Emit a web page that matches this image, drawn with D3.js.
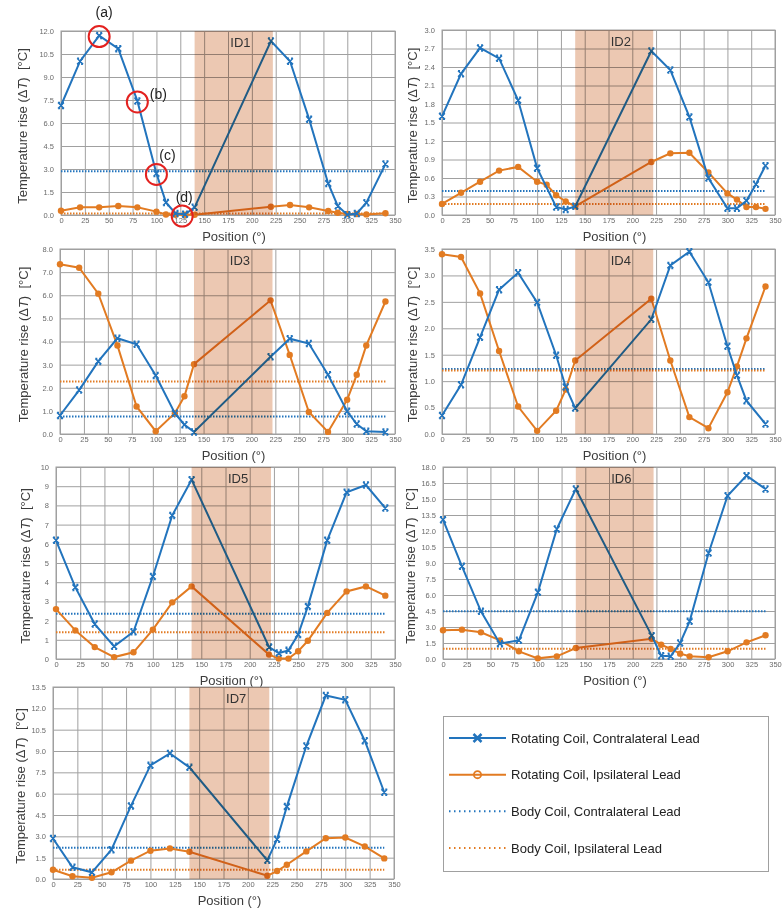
<!DOCTYPE html>
<html>
<head>
<meta charset="utf-8">
<script src="https://cdn.jsdelivr.net/npm/d3@7"></script>
<style>
  body { margin: 0; background: #fff; }
  svg { display: block; font-family: "Liberation Sans", Arial, sans-serif; }
</style>
</head>
<body>
<div id="chart"></div>
<script>
// Positions (deg) used in each panel
var posID1 = [0, 20, 40, 60, 80, 100, 110, 120, 130, 140, 220, 240, 260, 280, 290, 300, 310, 320, 340];
var posID2Contra = [0, 20, 40, 60, 80, 100, 120, 130, 140, 220, 240, 260, 280, 300, 310, 320, 330, 340];
var posID2Ipsi = [0, 20, 40, 60, 80, 100, 110, 120, 130, 140, 220, 240, 260, 280, 300, 310, 320, 330, 340];
var posID34 = [0, 20, 40, 60, 80, 100, 120, 130, 140, 220, 240, 260, 280, 300, 310, 320, 340];
var posID56 = [0, 20, 40, 60, 80, 100, 120, 140, 220, 230, 240, 250, 260, 280, 300, 320, 340];
var posID7 = [0, 20, 40, 60, 80, 100, 120, 140, 220, 230, 240, 260, 280, 300, 320, 340];

// Rotating coil, contralateral lead (blue)
var id1Contra = [7.14, 10.03, 11.7, 10.85, 7.44, 2.71, 0.82, 0.1, 0.05, 0.5, 11.35, 10.03, 6.25, 2.06, 0.59, 0.02, 0.1, 0.8, 3.32];
var id2Contra = [1.6, 2.29, 2.71, 2.54, 1.86, 0.76, 0.13, 0.09, 0.14, 2.66, 2.35, 1.59, 0.6, 0.11, 0.11, 0.23, 0.5, 0.8];
var id3Contra = [0.8, 1.9, 3.14, 4.14, 3.88, 2.53, 0.9, 0.4, 0.09, 3.34, 4.12, 3.91, 2.56, 0.98, 0.43, 0.12, 0.09];
var id4Contra = [0.35, 0.93, 1.83, 2.73, 3.05, 2.49, 1.49, 0.89, 0.49, 2.17, 3.19, 3.45, 2.87, 1.66, 1.11, 0.63, 0.19];
var id5Contra = [6.18, 3.73, 1.82, 0.66, 1.42, 4.3, 7.48, 9.34, 0.62, 0.31, 0.45, 1.27, 2.74, 6.18, 8.68, 9.06, 7.86];
var id6Contra = [13.06, 8.69, 4.47, 1.44, 1.75, 6.25, 12.19, 15.94, 2.19, 0.31, 0.25, 1.5, 3.53, 9.94, 15.3, 17.19, 15.94];
var id7Contra = [2.85, 0.82, 0.47, 2.06, 5.14, 7.99, 8.83, 7.85, 1.31, 2.8, 5.09, 9.35, 12.9, 12.6, 9.72, 6.1];

// Rotating coil, ipsilateral lead (orange)
var id1Ipsi = [0.28, 0.5, 0.5, 0.59, 0.5, 0.22, 0.03, 0.02, 0.02, 0.02, 0.54, 0.65, 0.5, 0.26, 0.15, 0.07, 0.07, 0.04, 0.11];
var id2Ipsi = [0.18, 0.36, 0.54, 0.72, 0.78, 0.54, 0.49, 0.32, 0.22, 0.14, 0.86, 1.0, 1.01, 0.69, 0.35, 0.25, 0.13, 0.13, 0.1];
var id3Ipsi = [7.34, 7.19, 6.07, 3.83, 1.19, 0.12, 0.9, 1.63, 3.02, 5.78, 3.42, 0.95, 0.09, 1.48, 2.56, 3.83, 5.73];
var id4Ipsi = [3.4, 3.35, 2.66, 1.57, 0.52, 0.06, 0.44, 0.84, 1.39, 2.56, 1.39, 0.32, 0.11, 0.79, 1.28, 1.81, 2.79];
var id5Ipsi = [2.6, 1.49, 0.62, 0.1, 0.35, 1.53, 2.95, 3.78, 0.23, 0.02, 0.02, 0.4, 0.95, 2.4, 3.52, 3.78, 3.3];
var id6Ipsi = [2.69, 2.75, 2.5, 1.75, 0.72, 0.06, 0.25, 1.03, 1.9, 1.34, 0.94, 0.5, 0.25, 0.16, 0.72, 1.56, 2.22];
var id7Ipsi = [0.65, 0.19, 0.09, 0.47, 1.29, 1.99, 2.15, 1.92, 0.23, 0.56, 1.0, 1.94, 2.87, 2.92, 2.29, 1.45];

// Body coil levels (constant over position)
var bodyContra = [2.86, 0.39, 0.76, 1.23, 2.36, 4.47, 2.2];
var bodyIpsi = [0.1, 0.18, 2.27, 1.2, 1.39, 0.97, 0.65];

var panelNames = ['ID1', 'ID2', 'ID3', 'ID4', 'ID5', 'ID6', 'ID7'];
var yMax = [12, 3, 8, 3.5, 10, 18, 13.5];
var yStep = [1.5, 0.3, 1, 0.5, 1, 1.5, 1.5];
var xTicks = d3.range(0, 351, 25);
var shadeRange = [140, 222];
var bodyRange = [0, 340];

var legendLabels = ['Rotating Coil, Contralateral Lead', 'Rotating Coil, Ipsilateral Lead',
                    'Body Coil, Contralateral Lead', 'Body Coil, Ipsilateral Lead'];

// annotations in ID1
var annoLabels = ['(a)', '(b)', '(c)', '(d)'];
var annoPos = [40, 80, 100, 127];
var annoVal = [11.7, 7.44, 2.71, 0.0];

var contra = [
  {x: posID1, y: id1Contra}, {x: posID2Contra, y: id2Contra}, {x: posID34, y: id3Contra},
  {x: posID34, y: id4Contra}, {x: posID56, y: id5Contra}, {x: posID56, y: id6Contra}, {x: posID7, y: id7Contra}
];
var ipsi = [
  {x: posID1, y: id1Ipsi}, {x: posID2Ipsi, y: id2Ipsi}, {x: posID34, y: id3Ipsi},
  {x: posID34, y: id4Ipsi}, {x: posID56, y: id5Ipsi}, {x: posID56, y: id6Ipsi}, {x: posID7, y: id7Ipsi}
];

// pixel layout of each plot area
var layout = [
  {l: 61, r: 395, t: 31, b: 215, lab: 39},
  {l: 442, r: 775, t: 30, b: 215, lab: 30},
  {l: 60, r: 395, t: 249, b: 434, lab: 37},
  {l: 442, r: 775, t: 249, b: 434, lab: 30},
  {l: 56, r: 395, t: 467, b: 659, lab: 31},
  {l: 443, r: 775, t: 467, b: 659, lab: 33},
  {l: 53, r: 394, t: 687, b: 879, lab: 33}
];

var blue = '#2274bd',
    orange = '#e27b22',
    gridColor = '#a0a0a0',
    textColor = '#3c3c3c';

var width = 783, height = 909;

var svg = d3.select('#chart').append('svg')
    .attr('width', width)
    .attr('height', height);

var crossPath = 'M-3,-3L3,3M-3,3L3,-3M-3,-3L-1,-3M1,-3L3,-3M-3,3L-1,3M1,3L3,3';

function styleAxis(g) {
  g.select('.domain').remove();
  g.selectAll('.tick line').attr('stroke', gridColor).attr('stroke-width', 1);
  g.selectAll('.tick text').attr('fill', '#6a6a6a').attr('font-size', '7.5px')
    .attr('font-family', '"Liberation Sans", Arial, sans-serif');
}

layout.forEach(function(p, i) {

  var x = d3.scaleLinear().domain([0, 350]).range([p.l, p.r]);
  var y = d3.scaleLinear().domain([0, yMax[i]]).range([p.b, p.t]);
  var yTicks = d3.range(0, Math.round(yMax[i] / yStep[i]) + 1).map(function(k) { return k * yStep[i]; });
  var fmt = i === 4 ? d3.format('d') : d3.format('.1f');

  var g = svg.append('g');

  // grid + ticks
  g.append('g')
      .attr('transform', 'translate(0,' + p.b + ')')
      .call(d3.axisBottom(x).tickValues(xTicks).tickSize(-(p.b - p.t)).tickPadding(3).tickFormat(d3.format('d')))
      .call(styleAxis);

  g.append('g')
      .attr('transform', 'translate(' + p.l + ',0)')
      .call(d3.axisLeft(y).tickValues(yTicks).tickSize(-(p.r - p.l)).tickPadding(7).tickFormat(fmt))
      .call(styleAxis);

  g.append('rect')
      .attr('x', p.l).attr('y', p.t)
      .attr('width', p.r - p.l).attr('height', p.b - p.t)
      .attr('fill', 'none').attr('stroke', gridColor);

  // body coil levels
  [[bodyContra[i], blue], [bodyIpsi[i], orange]].forEach(function(d) {
    g.append('line')
        .attr('x1', x(bodyRange[0])).attr('x2', x(bodyRange[1]))
        .attr('y1', y(d[0])).attr('y2', y(d[0]))
        .attr('stroke', d[1]).attr('stroke-width', 2)
        .attr('stroke-dasharray', '1.5,1.5');
  });

  var line = d3.line()
      .x(function(d) { return x(d[0]); })
      .y(function(d) { return y(d[1]); });

  var ipsiPts = d3.zip(ipsi[i].x, ipsi[i].y);
  var contraPts = d3.zip(contra[i].x, contra[i].y);

  // ipsilateral (orange)
  g.append('path').datum(ipsiPts)
      .attr('d', line).attr('fill', 'none')
      .attr('stroke', orange).attr('stroke-width', 2);
  g.selectAll('.dot').data(ipsiPts).enter().append('circle')
      .attr('cx', function(d) { return x(d[0]); })
      .attr('cy', function(d) { return y(d[1]); })
      .attr('r', 3.2).attr('fill', orange);

  // contralateral (blue)
  g.append('path').datum(contraPts)
      .attr('d', line).attr('fill', 'none')
      .attr('stroke', blue).attr('stroke-width', 2);
  g.selectAll('.cross').data(contraPts).enter().append('path')
      .attr('transform', function(d) { return 'translate(' + x(d[0]) + ',' + y(d[1]) + ')'; })
      .attr('d', crossPath).attr('fill', 'none')
      .attr('stroke', blue).attr('stroke-width', 1.5);

  // shaded region (multiplied over everything)
  g.append('rect')
      .attr('x', x(shadeRange[0])).attr('y', p.t)
      .attr('width', x(shadeRange[1]) - x(shadeRange[0]))
      .attr('height', p.b - p.t)
      .attr('fill', 'rgb(236,200,178)')
      .style('mix-blend-mode', 'multiply');

  // panel name
  g.append('text')
      .attr('x', x(188)).attr('y', p.t + 16)
      .attr('text-anchor', 'middle')
      .attr('font-size', '13px').attr('fill', '#333')
      .text(panelNames[i]);

  // axis titles
  g.append('text')
      .attr('x', (p.l + p.r) / 2 + 6).attr('y', p.b + 26)
      .attr('text-anchor', 'middle')
      .attr('font-size', '13px').attr('fill', textColor)
      .text('Position (°)');

  var yl = g.append('text')
      .attr('transform', 'translate(' + (p.l - p.lab + 5) + ',' + ((p.t + p.b) / 2 + 3) + ') rotate(-90)')
      .attr('text-anchor', 'middle')
      .attr('font-size', '13px').attr('fill', textColor);
  yl.append('tspan').text('Temperature rise (Δ');
  yl.append('tspan').attr('font-style', 'italic').text('T');
  yl.append('tspan').text(')\u00a0\u00a0[°C]');

  // annotations on ID1
  if (i === 0) {
    var labOff = [[5, -20], [21, -3], [11, -14], [2, -14]];
    annoLabels.forEach(function(t, k) {
      var cx = x(annoPos[k]), cy = y(annoVal[k]) + 1;
      g.append('circle')
          .attr('cx', cx).attr('cy', cy).attr('r', 10.5)
          .attr('fill', 'none').attr('stroke', '#e3211f').attr('stroke-width', 2);
      g.append('text')
          .attr('x', cx + labOff[k][0]).attr('y', cy + labOff[k][1])
          .attr('text-anchor', 'middle')
          .attr('font-size', '14px').attr('fill', '#222')
          .text(t);
    });
  }

});

// Legend
var leg = svg.append('g');
leg.append('rect')
    .attr('x', 443.5).attr('y', 716.5)
    .attr('width', 325).attr('height', 155)
    .attr('fill', '#fff').attr('stroke', '#a0a0a0');

var legY = d3.scalePoint().domain(legendLabels).range([738, 848]);
var legColors = [blue, orange, blue, orange];

legendLabels.forEach(function(t, k) {
  var yy = legY(t);
  var ln = leg.append('line')
      .attr('x1', 449).attr('x2', 506)
      .attr('y1', yy).attr('y2', yy)
      .attr('stroke', legColors[k]).attr('stroke-width', 2);
  if (k >= 2) ln.attr('stroke-dasharray', '1.5,3.5');
  if (k === 0) {
    leg.append('path')
        .attr('transform', 'translate(477.5,' + yy + ')')
        .attr('d', 'M-4,-4L4,4M-4,4L4,-4')
        .attr('stroke', blue).attr('stroke-width', 2.5);
  }
  if (k === 1) {
    leg.append('circle')
        .attr('cx', 477.5).attr('cy', yy).attr('r', 3.6)
        .attr('fill', 'none').attr('stroke', orange).attr('stroke-width', 1.8);
  }
  leg.append('text')
      .attr('x', 511).attr('y', yy + 4.5)
      .attr('font-size', '13px').attr('fill', '#222')
      .text(t);
});
</script>
</body>
</html>
